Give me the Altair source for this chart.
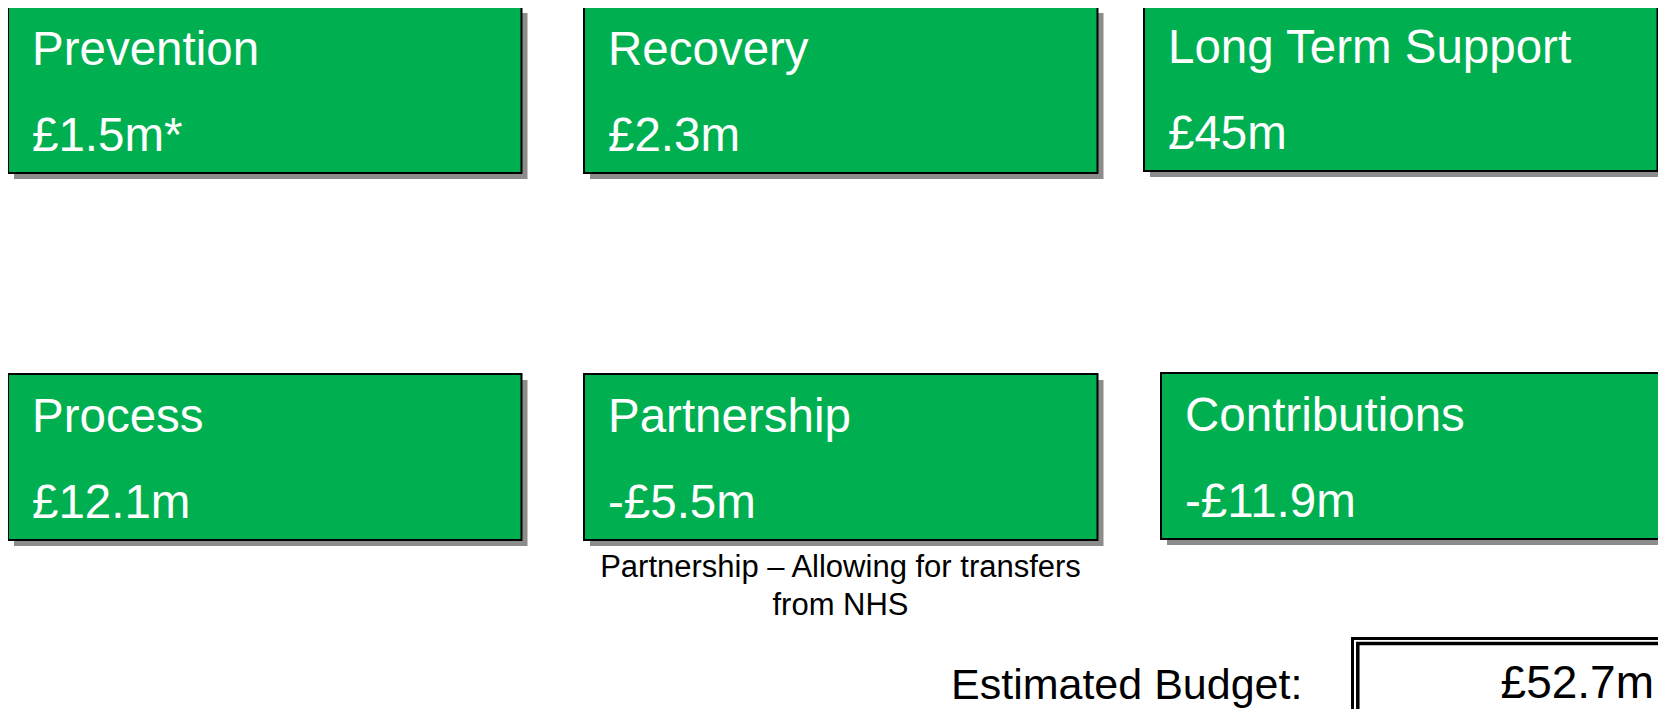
import altair as alt
import pandas as pd

# ---- data ----
categories = ["Prevention", "Recovery", "Long Term Support",
              "Process", "Partnership", "Contributions"]
amounts = ["£1.5m*", "£2.3m", "£45m", "£12.1m", "-£5.5m", "-£11.9m"]
note_lines = ["Partnership – Allowing for transfers", "from NHS"]
total_label = "Estimated Budget:"
total_amount = "£52.7m"

# ---- layout (page pixel coordinates) ----
box_left = [8, 584, 1144, 8, 584, 1161]
box_top = [7, 7, 5, 374, 374, 373]
BOX_W, BOX_H = 513.5, 166
SHADOW = 6
GREEN = "#00B050"
FONT = "Liberation Sans"

boxes = pd.DataFrame({"cat": categories, "amount": amounts,
                      "x": box_left, "y": box_top})
boxes["x2"] = boxes["x"] + BOX_W
boxes["y2"] = boxes["y"] + BOX_H
boxes["sx"] = boxes["x"] + SHADOW
boxes["sy"] = boxes["y"] + SHADOW
boxes["sx2"] = boxes["x2"] + SHADOW
boxes["sy2"] = boxes["y2"] + SHADOW
boxes["tx"] = boxes["x"] + 24
boxes["ty1"] = boxes["y"] + 58
boxes["ty2"] = boxes["y"] + 144

xs = alt.Scale(domain=[8, 1658], nice=False, zero=False)
ys = alt.Scale(domain=[8, 709], reverse=True, nice=False, zero=False)

def X(f):
    return alt.X(f, type="quantitative", scale=xs, axis=None)

def Y(f):
    return alt.Y(f, type="quantitative", scale=ys, axis=None)

base = alt.Chart(boxes)

shadow = base.mark_rect(color="#8c8c8c", clip=True).encode(
    x=X("sx"), x2="sx2", y=Y("sy"), y2="sy2")

rects = base.mark_rect(fill=GREEN, stroke="black", strokeWidth=2, clip=True).encode(
    x=X("x"), x2="x2", y=Y("y"), y2="y2")

titles = base.mark_text(align="left", baseline="alphabetic", font=FONT,
                        fontSize=47.5, color="white").encode(
    x=X("tx"), y=Y("ty1"), text="cat:N")

vals = base.mark_text(align="left", baseline="alphabetic", font=FONT,
                      fontSize=47.5, color="white").encode(
    x=X("tx"), y=Y("ty2"), text="amount:N")

notes = pd.DataFrame({"t": note_lines, "x": [840.5, 840.5], "y": [577, 615]})
note_text = alt.Chart(notes).mark_text(align="center", baseline="alphabetic",
                                       font=FONT, fontSize=31, color="black").encode(
    x=X("x"), y=Y("y"), text="t:N")

budget = pd.DataFrame({"t": [total_label, total_amount],
                       "x": [951, 1654], "y": [699, 698]})
label_text = alt.Chart(budget.iloc[[0]]).mark_text(
    align="left", baseline="alphabetic", font=FONT, fontSize=43, color="black").encode(
    x=X("x"), y=Y("y"), text="t:N")
amount_text = alt.Chart(budget.iloc[[1]]).mark_text(
    align="right", baseline="alphabetic", font=FONT, fontSize=46, color="black").encode(
    x=X("x"), y=Y("y"), text="t:N")

frame = pd.DataFrame({"x": [1352.5, 1357.8], "y": [638.5, 643.6],
                      "x2": [1720, 1720], "y2": [760, 760]})
outer = alt.Chart(frame.iloc[[0]]).mark_rect(
    fill=None, stroke="black", strokeWidth=3, clip=True).encode(
    x=X("x"), x2="x2", y=Y("y"), y2="y2")
inner = alt.Chart(frame.iloc[[1]]).mark_rect(
    fill=None, stroke="black", strokeWidth=3.5, clip=True).encode(
    x=X("x"), x2="x2", y=Y("y"), y2="y2")

chart = alt.layer(shadow, rects, titles, vals, note_text,
                  outer, inner, label_text, amount_text).properties(
    width=1650, height=701, padding=0,
    autosize=alt.AutoSizeParams(type="none"),
).configure_view(stroke=None)

chart.save("out.html", embed_options={"renderer": "svg", "actions": False})
